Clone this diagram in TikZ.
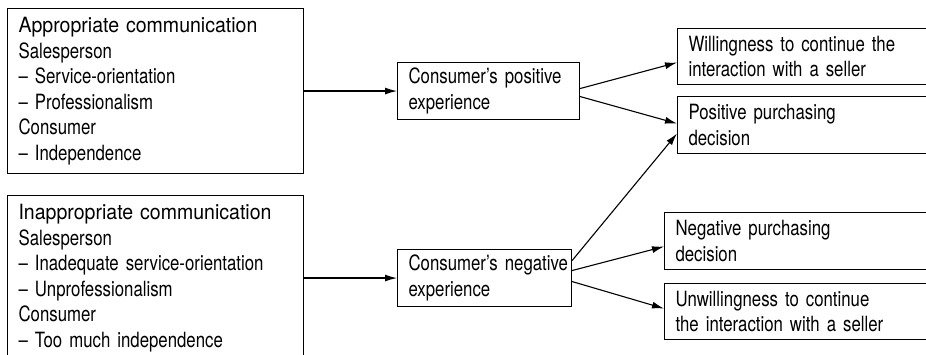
\documentclass[tikz,border=0pt]{standalone}
\usepackage{fontspec}
\setmainfont{TeX Gyre Heros}[FakeStretch=0.80]
\newfontfamily\headfont{TeX Gyre Heros}[FakeStretch=0.93]
\usepackage{tikz}
\usetikzlibrary{arrows.meta}
\newcommand{\boxfont}{\fontsize{21}{25.5}\selectfont\hyphenpenalty=10000\relax}

\begin{document}
\begin{tikzpicture}[x=1pt,y=-1pt,
    box/.style={draw,line width=1.1pt,anchor=north west,align=left,inner xsep=11pt,inner ysep=0pt,font=\boxfont},
    arr/.style={line width=1.1pt,-{Latex[length=12pt,width=7pt]}}]
    \path[use as bounding box] (0,0) rectangle (926,355);
    \clip (0,0) rectangle (926,355);
    \node [box,text width=274pt,minimum height=165pt] (appr) at (7,8) {{\headfont Appropriate communication}\\Salesperson\\-- Service-orientation\\-- Professionalism\\Consumer\\-- Independence};
    \node [box,text width=274pt,minimum height=165pt] (inappr) at (7,195) {{\headfont Inappropriate communication}\\Salesperson\\-- Inadequate service-orientation\\-- Unprofessionalism\\Consumer\\-- Too much independence};
    \node [box,text width=160pt,minimum height=57pt] (pos) at (397,62) {Consumer's~positive\\experience};
    \node [box,text width=152pt,minimum height=57pt] (neg) at (397,249) {Consumer's~negative\\experience};
    \node [box,text width=280pt,minimum height=56pt] (will) at (677,28) {Willingness to continue the\\interaction with a seller};
    \node [box,text width=280pt,minimum height=57pt] (pospur) at (677,96) {Positive purchasing\\decision};
    \node [box,text width=280pt,minimum height=57pt] (negpur) at (664,212) {Negative purchasing\\decision};
    \node [box,text width=280pt,minimum height=56pt] (unwill) at (664,283) {Unwillingness to continue\\the interaction with a seller};
    \draw[arr] (appr) -- (pos);
    \draw[arr] (inappr) -- (neg);
    \draw[arr] ([yshift=2.5pt]pos.east) -- ([yshift=-6pt]will.west);
    \draw[arr] ([yshift=-5.5pt]pos.east) -- ([yshift=1.5pt]pospur.west);
    \draw[arr] ([yshift=17.5pt]neg.east) -- ([yshift=-8.5pt]pospur.west);
    \draw[arr] ([yshift=7.5pt]neg.east) -- ([yshift=-5.5pt]negpur.west);
    \draw[arr] ([yshift=-3.5pt]neg.east) -- ([yshift=3pt]unwill.west);
\end{tikzpicture}
\end{document}
